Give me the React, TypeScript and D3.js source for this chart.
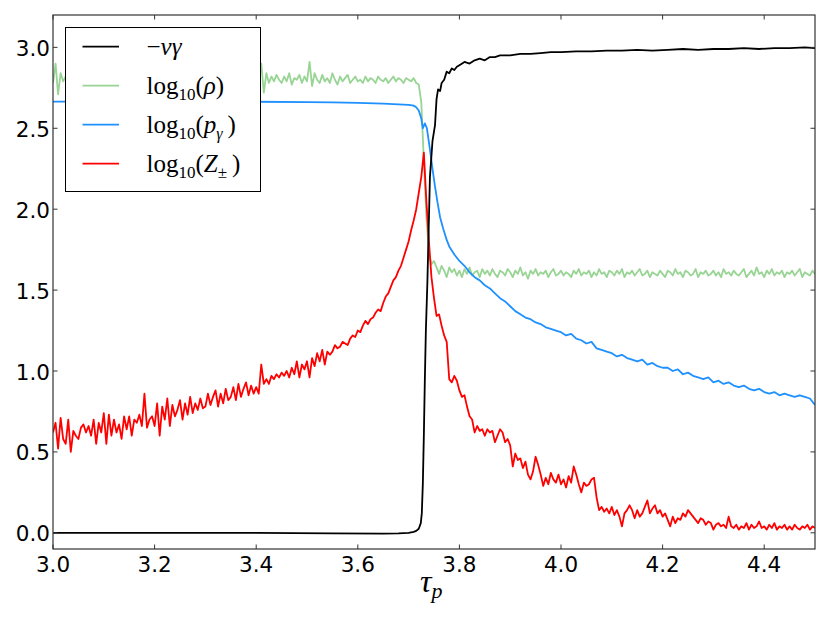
import * as React from "react";
import * as d3 from "d3";

// sample grid for the two noisy series: tau from 3.0 to 4.5 in steps of 0.005
const gridStart = 3.0;
const gridStep = 0.005;

const zPairs = [
  0.62, 0.68, 0.52, 0.71, 0.58, 0.55, 0.70, 0.50, 0.63, 0.60,
  0.58, 0.65, 0.67, 0.62, 0.66, 0.60, 0.70, 0.55, 0.68, 0.62,
  0.74, 0.55, 0.73, 0.60, 0.70, 0.62, 0.67, 0.58, 0.72, 0.64,
  0.72, 0.60, 0.70, 0.68, 0.73, 0.66, 0.86, 0.65, 0.70, 0.72,
  0.66, 0.80, 0.60, 0.78, 0.70, 0.83, 0.66, 0.79, 0.72, 0.76,
  0.82, 0.70, 0.80, 0.73, 0.84, 0.74, 0.80, 0.76, 0.83, 0.77,
  0.78, 0.86, 0.79, 0.84, 0.88, 0.78, 0.86, 0.80, 0.89, 0.82,
  0.84, 0.90, 0.82, 0.92, 0.84, 0.89, 0.93, 0.85, 0.91, 0.86,
  0.90, 0.86, 1.04, 0.92, 0.95, 0.92, 0.97, 0.95, 0.98, 0.96,
  0.99, 0.97, 1.00, 0.96, 1.02, 0.98, 1.06, 0.96, 1.04, 1.01,
  1.06, 0.96, 1.08, 1.03, 1.11, 1.06, 1.13, 1.04, 1.12, 1.10,
  1.12, 1.16, 1.14, 1.15, 1.18, 1.17, 1.16, 1.20, 1.22, 1.21,
  1.25, 1.24, 1.28, 1.31, 1.29, 1.32, 1.33, 1.36, 1.38, 1.37,
  1.42, 1.46, 1.48, 1.52, 1.56, 1.58, 1.62, 1.65, 1.70, 1.75,
  1.80, 1.87, 1.93, 2.00, 2.10, 2.20, 2.35, 2.05, 1.80, 1.58,
  1.45, 1.34, 1.35, 1.28, 1.22, 1.18, 0.95, 0.93, 0.97, 0.94,
  0.88, 0.84, 0.85, 0.78, 0.72, 0.70, 0.62, 0.66, 0.63, 0.64,
  0.60, 0.64, 0.62, 0.63, 0.56, 0.60, 0.64, 0.62, 0.56, 0.58,
  0.54, 0.41, 0.49, 0.45, 0.46, 0.40, 0.44, 0.36, 0.33, 0.38,
  0.47, 0.42, 0.36, 0.29, 0.34, 0.30, 0.37, 0.33, 0.31, 0.36,
  0.30, 0.33, 0.28, 0.35, 0.31, 0.41, 0.36, 0.30, 0.25, 0.31,
  0.29, 0.30, 0.33, 0.34, 0.22, 0.14, 0.16, 0.13, 0.15, 0.12,
  0.16, 0.11, 0.14, 0.10, 0.04, 0.12, 0.14, 0.17, 0.14, 0.09,
  0.14, 0.10, 0.12, 0.16, 0.20, 0.12, 0.15, 0.17, 0.12, 0.14,
  0.10, 0.12, 0.08, 0.04, 0.10, 0.06, 0.09, 0.08, 0.12, 0.10,
  0.14, 0.12, 0.10, 0.08, 0.06, 0.09, 0.08, 0.05, 0.07, 0.06,
  0.02, 0.05, 0.06, 0.04, 0.05, 0.03, 0.10, 0.04, 0.03, 0.05,
  0.02, 0.04, 0.03, 0.06, 0.02, 0.05, 0.03, 0.04, 0.07, 0.03,
  0.04, 0.02, 0.05, 0.03, 0.06, 0.02, 0.04, 0.03, 0.05, 0.02,
  0.04, 0.02, 0.05, 0.03, 0.02, 0.04, 0.03, 0.05, 0.02, 0.04,
  0.03,
];

const rho = [
  2.78, 2.90, 2.71, 2.84, 2.79, 2.82, 2.76, 2.83, 2.80, 2.78,
  2.82, 2.77, 2.84, 2.80, 2.78, 2.83, 2.79, 2.81, 2.77, 2.82,
  2.80, 2.84, 2.78, 2.81, 2.79, 2.83, 2.77, 2.82, 2.80, 2.79,
  2.81, 2.78, 2.83, 2.80, 2.77, 2.82, 2.79, 2.84, 2.78, 2.81,
  2.79, 2.82, 2.78, 2.83, 2.80, 2.77, 2.81, 2.79, 2.84, 2.80,
  2.78, 2.82, 2.80, 2.79, 2.83, 2.77, 2.81, 2.80, 2.78, 2.82,
  2.80, 2.79, 2.83, 2.78, 2.81, 2.80, 2.77, 2.82, 2.79, 2.81,
  2.83, 2.78, 2.80, 2.82, 2.79, 2.81, 2.77, 2.83, 2.80, 2.79,
  2.82, 2.78, 2.90, 2.72, 2.84, 2.78, 2.82, 2.79, 2.83, 2.80,
  2.78, 2.82, 2.79, 2.84, 2.77, 2.81, 2.80, 2.83, 2.78, 2.82,
  2.79, 2.91, 2.76, 2.84, 2.80, 2.78, 2.83, 2.79, 2.81, 2.78,
  2.84, 2.80, 2.77, 2.82, 2.79, 2.81, 2.83, 2.78, 2.80, 2.82,
  2.79, 2.80, 2.78, 2.82, 2.79, 2.81, 2.80, 2.78, 2.82, 2.80,
  2.79, 2.81, 2.78, 2.80, 2.82, 2.79, 2.81, 2.80, 2.78, 2.81,
  2.80, 2.79, 2.81, 2.78, 2.77, 2.66, 2.30, 1.95, 1.73, 1.66,
  1.68, 1.64, 1.60, 1.65, 1.62, 1.58, 1.64, 1.61, 1.63, 1.59,
  1.62, 1.58, 1.63, 1.60, 1.64, 1.59, 1.61, 1.62, 1.58, 1.63,
  1.60, 1.62, 1.59, 1.63, 1.60, 1.58, 1.62, 1.61, 1.59, 1.63,
  1.61, 1.58, 1.62, 1.60, 1.64, 1.59, 1.61, 1.57, 1.62, 1.60,
  1.63, 1.59, 1.61, 1.60, 1.62, 1.58, 1.61, 1.63, 1.59, 1.60,
  1.62, 1.59, 1.61, 1.60, 1.58, 1.62, 1.60, 1.63, 1.59, 1.61,
  1.60, 1.62, 1.58, 1.61, 1.59, 1.63, 1.60, 1.61, 1.58, 1.62,
  1.61, 1.59, 1.62, 1.60, 1.63, 1.58, 1.61, 1.60, 1.62, 1.59,
  1.61, 1.63, 1.59, 1.60, 1.62, 1.58, 1.61, 1.60, 1.59, 1.62,
  1.60, 1.58, 1.62, 1.61, 1.59, 1.63, 1.60, 1.61, 1.58, 1.62,
  1.61, 1.59, 1.60, 1.63, 1.58, 1.61, 1.60, 1.62, 1.59, 1.60,
  1.62, 1.59, 1.61, 1.58, 1.63, 1.60, 1.61, 1.59, 1.62, 1.60,
  1.59, 1.61, 1.63, 1.58, 1.60, 1.62, 1.59, 1.64, 1.60, 1.61,
  1.58, 1.62, 1.60, 1.63, 1.59, 1.61, 1.60, 1.62, 1.58, 1.61,
  1.60, 1.62, 1.59, 1.61, 1.63, 1.58, 1.61, 1.60, 1.59, 1.62,
  1.60,
];

// p_gamma, sampled irregularly (dense through the transition)
const pGammaTau = [
  3.0, 3.1, 3.2, 3.3, 3.4, 3.5, 3.55, 3.6, 3.65, 3.68, 3.70, 3.71, 3.715,
  3.72, 3.725, 3.728, 3.732, 3.736, 3.742, 3.747, 3.752, 3.757, 3.762,
  3.768, 3.775, 3.78, 3.79,
  3.80, 3.81, 3.82, 3.83, 3.84, 3.85, 3.86, 3.87, 3.88, 3.89,
  3.90, 3.91, 3.92, 3.93, 3.94, 3.95, 3.96, 3.97, 3.98, 3.99,
  4.00, 4.01, 4.02, 4.03, 4.04, 4.05, 4.06, 4.07, 4.08, 4.09,
  4.10, 4.11, 4.12, 4.13, 4.14, 4.15, 4.16, 4.17, 4.18, 4.19,
  4.20, 4.21, 4.22, 4.23, 4.24, 4.25, 4.26, 4.27, 4.28, 4.29,
  4.30, 4.31, 4.32, 4.33, 4.34, 4.35, 4.36, 4.37, 4.38, 4.39,
  4.40, 4.41, 4.42, 4.43, 4.44, 4.45, 4.46, 4.47, 4.48, 4.49,
  4.50,
];
const pGamma = [
  2.665, 2.665, 2.665, 2.664, 2.664, 2.662, 2.66, 2.657, 2.652, 2.648, 2.645, 2.64, 2.63,
  2.61, 2.56, 2.50, 2.53, 2.50, 2.37, 2.25, 2.14, 2.04, 1.95,
  1.88, 1.81, 1.77, 1.72,
  1.68, 1.65, 1.61, 1.58, 1.56, 1.53, 1.51, 1.48, 1.45, 1.43,
  1.40, 1.37, 1.35, 1.33, 1.32, 1.30, 1.29, 1.27, 1.26, 1.25,
  1.24, 1.22, 1.23, 1.20, 1.19, 1.17, 1.18, 1.14, 1.13, 1.12,
  1.11, 1.09, 1.10, 1.08, 1.07, 1.06, 1.07, 1.04, 1.05, 1.03,
  1.02, 1.02, 1.00, 1.01, 0.98, 0.99, 0.97, 0.96, 0.95, 0.96,
  0.93, 0.94, 0.92, 0.93, 0.91, 0.90, 0.91, 0.89, 0.88, 0.89,
  0.87, 0.86, 0.87, 0.85, 0.86, 0.85, 0.84, 0.85, 0.84, 0.83,
  0.79,
];

// -v*gamma
const vGammaTau = [
  3.0, 3.2, 3.4, 3.55, 3.65, 3.68, 3.70, 3.71, 3.715, 3.72, 3.724, 3.726,
  3.728, 3.730, 3.732, 3.734, 3.737, 3.742, 3.747, 3.752, 3.755, 3.758,
  3.762, 3.765, 3.77, 3.775, 3.78, 3.785, 3.79, 3.795, 3.80, 3.81, 3.82,
  3.83, 3.84, 3.85, 3.86, 3.87, 3.88, 3.90, 3.92, 3.94, 3.96, 3.98, 4.00,
  4.03, 4.06, 4.09, 4.12, 4.15, 4.18, 4.21, 4.24, 4.27, 4.30, 4.33, 4.36,
  4.39, 4.42, 4.45, 4.48, 4.50,
];
const vGamma = [
  0.0, 0.0, 0.0, -0.004, -0.005, -0.003, 0.0, 0.006, 0.012, 0.025, 0.06, 0.12,
  0.30, 0.60, 0.95, 1.25, 1.55, 2.20, 2.42, 2.52, 2.68, 2.74,
  2.73, 2.78, 2.80, 2.85, 2.84, 2.87, 2.86, 2.88, 2.89, 2.91, 2.90,
  2.92, 2.93, 2.92, 2.94, 2.94, 2.95, 2.95, 2.96, 2.96, 2.965, 2.97, 2.97,
  2.975, 2.975, 2.98, 2.98, 2.985, 2.98, 2.985, 2.99, 2.985, 2.99, 2.99, 2.995,
  2.99, 2.995, 2.995, 3.0, 2.995,
];

const xTicks = [3.0, 3.2, 3.4, 3.6, 3.8, 4.0, 4.2, 4.4];
const yTicks = [0.0, 0.5, 1.0, 1.5, 2.0, 2.5, 3.0];

const W = 830;
const H = 625;
const margin = { top: 15, right: 15, bottom: 76, left: 53 };

export default function App() {
  const x = d3.scaleLinear().domain([3.0, 4.5]).range([margin.left, W - margin.right]);
  const y = d3.scaleLinear().domain([-0.1, 3.2]).range([H - margin.bottom, margin.top]);

  const line = d3
    .line<[number, number]>()
    .x((d) => x(d[0]))
    .y((d) => y(d[1]));

  const onGrid = (vals: number[]) =>
    vals.map((v, i) => [gridStart + i * gridStep, v] as [number, number]);
  const zip = (ts: number[], vs: number[]) =>
    ts.map((t, i) => [t, vs[i]] as [number, number]);

  const series = [
    { name: "rho", color: "#98d494", pts: onGrid(rho) },
    { name: "pg", color: "#1e90ff", pts: zip(pGammaTau, pGamma) },
    { name: "z", color: "#ff0000", pts: onGrid(zPairs) },
    { name: "vg", color: "#000000", pts: zip(vGammaTau, vGamma) },
  ];

  const x0 = margin.left;
  const x1 = W - margin.right;
  const y0 = margin.top;
  const y1 = H - margin.bottom;
  const tick = 4.5;
  const tickFont = "'DejaVu Sans', sans-serif";
  const mathFont = "'Liberation Serif', serif";

  const legendRows = [
    { color: "#000000", label: "vg" },
    { color: "#98d494", label: "rho" },
    { color: "#1e90ff", label: "pg" },
    { color: "#ff0000", label: "z" },
  ];

  const renderLabel = (k: string) => {
    if (k === "vg")
      return (
        <>
          <tspan>−</tspan>
          <tspan fontStyle="italic">vγ</tspan>
        </>
      );
    const sub = (
      <tspan fontSize={17} dy={6}>
        10
      </tspan>
    );
    let arg: React.ReactNode = null;
    if (k === "rho") arg = <tspan fontStyle="italic">ρ</tspan>;
    if (k === "pg")
      arg = (
        <>
          <tspan fontStyle="italic">p</tspan>
          <tspan fontStyle="italic" fontSize={16} dy={6}>γ</tspan>
          <tspan dy={-6}>{"\u2009"}</tspan>
        </>
      );
    if (k === "z")
      arg = (
        <>
          <tspan fontStyle="italic">Z</tspan>
          <tspan fontSize={17} dy={6}>±</tspan>
          <tspan dy={-6}>{"\u2009"}</tspan>
        </>
      );
    return (
      <>
        <tspan>log</tspan>
        {sub}
        <tspan dy={-6}>(</tspan>
        {arg}
        <tspan>)</tspan>
      </>
    );
  };

  return (
    <svg
      width={W}
      height={H}
      style={{ position: "absolute", left: 0, top: 0, background: "#fff" }}
    >
      <defs>
        <clipPath id="plot">
          <rect x={x0} y={y0} width={x1 - x0} height={y1 - y0} />
        </clipPath>
      </defs>
      <g clipPath="url(#plot)">
        {series.map((s) => (
          <path
            key={s.name}
            d={line(s.pts) || ""}
            fill="none"
            stroke={s.color}
            strokeWidth={1.8}
            strokeLinejoin="round"
          />
        ))}
      </g>

      {/* frame and inward ticks on all four sides */}
      <rect x={x0} y={y0} width={x1 - x0} height={y1 - y0} fill="none" stroke="#333" strokeWidth={1.2} />
      {xTicks.map((t) => (
        <g key={"xt" + t}>
          <line x1={x(t)} x2={x(t)} y1={y1} y2={y1 - tick} stroke="#333" />
          <line x1={x(t)} x2={x(t)} y1={y0} y2={y0 + tick} stroke="#333" />
          <text x={x(t)} y={y1 + 23} textAnchor="middle" fontFamily={tickFont} fontSize={21.5}>
            {t.toFixed(1)}
          </text>
        </g>
      ))}
      {yTicks.map((t) => (
        <g key={"yt" + t}>
          <line x1={x0} x2={x0 + tick} y1={y(t)} y2={y(t)} stroke="#333" />
          <line x1={x1} x2={x1 - tick} y1={y(t)} y2={y(t)} stroke="#333" />
          <text x={x0 - 3} y={y(t) + 8.5} textAnchor="end" fontFamily={tickFont} fontSize={21.5}>
            {t.toFixed(1)}
          </text>
        </g>
      ))}

      <text x={(x0 + x1) / 2 - 14} y={592} fontFamily={mathFont} fontSize={32} fontStyle="italic">
        τ
        <tspan fontSize={22} dy={6}>p</tspan>
      </text>

      {/* legend */}
      <rect x={65.5} y={27.5} width={195} height={164} fill="#fff" stroke="#000" strokeWidth={1} />
      {legendRows.map((r, i) => {
        const ly = 46.7 + i * 39;
        return (
          <g key={r.label}>
            <line x1={82.5} x2={119} y1={ly} y2={ly} stroke={r.color} strokeWidth={1.8} />
            <text x={146.5} y={ly + 8} fontFamily={mathFont} fontSize={25}>
              {renderLabel(r.label)}
            </text>
          </g>
        );
      })}
    </svg>
  );
}
